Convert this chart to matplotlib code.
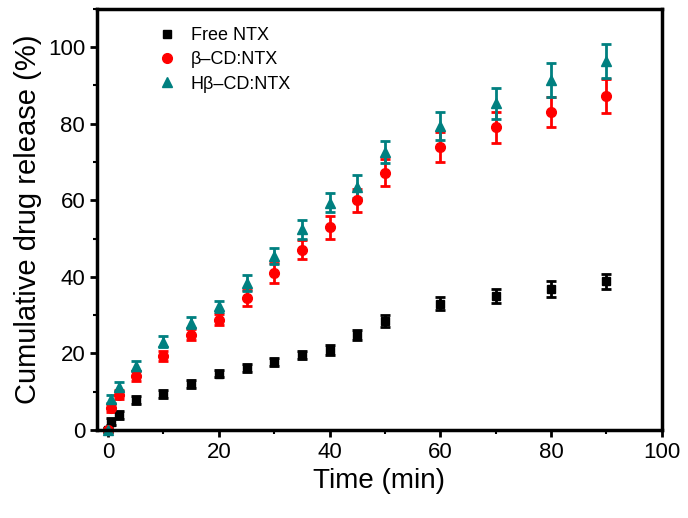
import matplotlib
matplotlib.use("Agg")
import matplotlib.pyplot as plt
from matplotlib.lines import Line2D
from matplotlib.ticker import MultipleLocator

plt.rcParams['font.family'] = ['Liberation Sans', 'DejaVu Sans']

# release time points (min)
time_min = [0, 0.5, 2, 5, 10, 15, 20, 25, 30, 35, 40, 45, 50, 60, 70, 80, 90]

free_ntx = [0, 2.2, 3.9, 7.9, 9.4, 12.0, 14.7, 16.2, 17.8, 19.5, 20.9, 24.9, 28.5, 33.0, 35.0, 36.8, 38.8]
free_err = [0.5, 0.8, 1.0, 1.0, 1.0, 1.0, 1.0, 1.0, 1.0, 1.0, 1.2, 1.3, 1.5, 1.7, 1.8, 2.0, 2.0]

bcd_ntx = [0, 5.8, 9.2, 14.2, 19.2, 24.9, 28.8, 34.5, 41.0, 47.1, 52.9, 60.0, 67.2, 73.9, 79.0, 83.0, 87.2]
bcd_err = [0.5, 1.0, 1.2, 1.3, 1.3, 1.5, 1.5, 2.0, 2.5, 2.5, 3.0, 3.0, 3.5, 4.0, 4.0, 4.0, 4.5]

hbcd_ntx = [0, 8.0, 11.3, 16.6, 23.1, 28.0, 32.3, 38.4, 45.4, 52.4, 59.4, 63.5, 72.6, 79.4, 85.3, 91.4, 96.3]
hbcd_err = [0.5, 1.0, 1.2, 1.3, 1.5, 1.5, 1.5, 2.0, 2.0, 2.5, 2.5, 3.0, 3.0, 3.6, 4.0, 4.4, 4.5]

fig = plt.figure(figsize=(6.88, 5.18), dpi=100)
ax = fig.add_axes([0.141, 0.170, 0.821, 0.813])

series = [
    (free_ntx, free_err, 's', 'black', 6, 'Free NTX'),
    (bcd_ntx, bcd_err, 'o', '#ff0000', 7, 'β–CD:NTX'),
    (hbcd_ntx, hbcd_err, '^', '#008080', 7, 'Hβ–CD:NTX'),
]
handles = []
for vals, errs, mk, col, ms, lab in series:
    ax.errorbar(time_min, vals, yerr=errs, fmt=mk, color=col, ecolor=col,
                markersize=ms, elinewidth=2, capsize=3.5, capthick=2,
                clip_on=False)
    handles.append(Line2D([], [], linestyle='none', marker=mk, color=col,
                          markersize=ms, label=lab))

ax.set_xlim(-2, 100)
ax.set_ylim(0, 110)
ax.xaxis.set_major_locator(MultipleLocator(20))
ax.xaxis.set_minor_locator(MultipleLocator(10))
ax.yaxis.set_major_locator(MultipleLocator(20))
ax.yaxis.set_minor_locator(MultipleLocator(10))
ax.tick_params(which='major', direction='out', length=5, width=2, labelsize=16)
ax.tick_params(which='minor', direction='out', length=3, width=1.5)
for sp in ax.spines.values():
    sp.set_linewidth(2.5)

ax.set_xlabel('Time (min)', fontsize=20)
ax.set_ylabel('Cumulative drug release (%)', fontsize=21)

ax.legend(handles=handles, loc='upper left', bbox_to_anchor=(0.08, 0.995),
          frameon=False, fontsize=13, handlelength=1.0, handletextpad=0.8,
          labelspacing=0.4)

fig.savefig('out.png', dpi=100)
